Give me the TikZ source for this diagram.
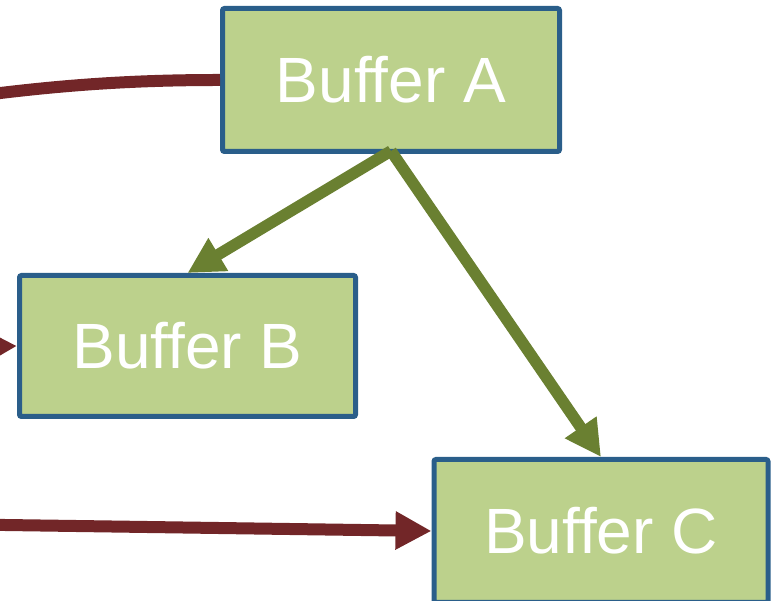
\documentclass[tikz,border=0pt]{standalone}
\usepackage{fontspec}
\setmainfont{Liberation Sans}
\usetikzlibrary{arrows.meta}
\definecolor{bufFill}{RGB}{188,209,140}
\definecolor{bufLine}{RGB}{42,94,138}
\definecolor{linkRed}{RGB}{114,38,40}
\definecolor{linkGreen}{RGB}{106,128,49}
\tikzset{
  bufbox/.style={draw=bufLine, fill=bufFill, line width=5pt, rounded corners=2pt,
    inner sep=0pt, text=white, font=\fontsize{64}{70}\selectfont},
  redlink/.style={draw=linkRed, line width=12pt, line cap=butt,
    -{Triangle[length=36pt,width=36pt]}},
  redplain/.style={draw=linkRed, line width=12pt, line cap=butt},
  greenlink/.style={draw=linkGreen, line width=11.5pt, line cap=butt,
    -{Triangle[length=36pt,width=36pt]}}
}
\begin{document}
\begin{tikzpicture}[x=1pt,y=1pt]
\useasboundingbox (0,0) rectangle (772,601);
\clip (0,0) rectangle (772,601);
\node[bufbox, minimum width=337pt, minimum height=143pt] (A) at (391,521) {Buffer A};
\node[bufbox, minimum width=336pt, minimum height=141pt] (B) at (187.5,255) {Buffer B};
\node[bufbox, minimum width=334pt, minimum height=143pt] (C) at (601,70) {Buffer C};
\coordinate (L1) at (-10,506.7);
\coordinate (L2) at (-60,253);
\coordinate (L3) at (-10,76.2);
\draw[redplain] (L1) .. controls (80,518) and (150,521) .. (A.west);
\draw[redlink] (L2) -- (B.west);
\draw[redlink] (L3) -- (C.west);
\coordinate (As) at ([yshift=3pt]A.south);
\draw[greenlink] (As) -- (B.north);
\draw[greenlink] (As) -- (C.north);
\end{tikzpicture}
\end{document}
